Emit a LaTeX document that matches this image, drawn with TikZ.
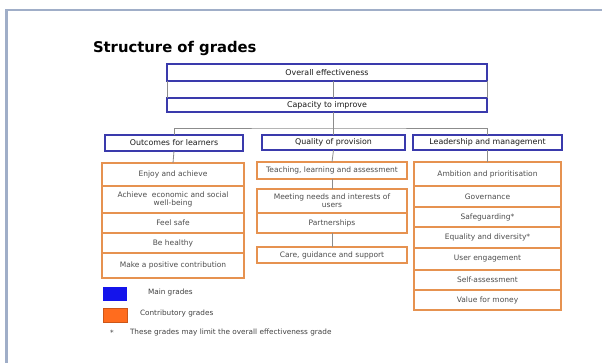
\documentclass[tikz,border=0pt]{standalone}
\usepackage{fontspec}
\setmainfont{DejaVu Sans}
\usetikzlibrary{positioning}

\definecolor{gradeblue}{RGB}{58,58,172}
\definecolor{gradeorange}{RGB}{230,146,80}
\definecolor{keyblue}{RGB}{20,20,235}
\definecolor{keyorange}{RGB}{255,108,30}
\definecolor{frameblue}{RGB}{160,174,200}
\definecolor{linkgrey}{RGB}{140,140,140}

\begin{document}
\begin{tikzpicture}[
    x=1pt, y=-1pt,
    every node/.style={inner sep=0pt, outer sep=0pt, align=center},
    mainbox/.style={draw=gradeblue, line width=1.8pt, text=black!90, font=\fontsize{7.9}{9}\selectfont},
    subbox/.style={draw=gradeorange, line width=1.3pt, text=black!70, font=\fontsize{7.5}{8.2}\selectfont, minimum width=#1},
    link/.style={draw=linkgrey, line width=0.8pt},
    keytext/.style={text=black!75, font=\fontsize{7.3}{8.5}\selectfont, anchor=west}
    ]

    \useasboundingbox (0,0) rectangle (602,363);
    \draw[frameblue, line width=2.5pt] (6.5,363) -- (6.5,10) -- (602,10);

    \node[anchor=base west, font=\bfseries\fontsize{14.8}{17}\selectfont] (title) at (93,53) {Structure of grades};

    \node (overall) [mainbox, minimum width=320pt, minimum height=17pt] at (327,72.5) {Overall effectiveness};
    \node (capacity) [mainbox, minimum width=320pt, minimum height=14pt] at (327,105) {Capacity to improve};

    \node (outcomes) [mainbox, minimum width=138pt, minimum height=16pt] at (174,143) {Outcomes for learners};
    \node (quality) [mainbox, minimum width=143pt, minimum height=15pt] at (333.5,142.5) {Quality of provision};
    \node (leadership) [mainbox, minimum width=149pt, minimum height=15pt] at (487.5,142.5) {Leadership and management};

    \node (enjoy) [subbox=142pt, minimum height=23pt] at (173,174.5) {Enjoy and achieve};
    \node (economic) [subbox=142pt, minimum height=27pt, below=0pt of enjoy] {Achieve\ \ economic and social\\ well-being};
    \node (safe) [subbox=142pt, minimum height=20pt, below=0pt of economic] {Feel safe};
    \node (healthy) [subbox=142pt, minimum height=20pt, below=0pt of safe] {Be healthy};
    \node (contribution) [subbox=142pt, minimum height=25pt, below=0pt of healthy] {Make a positive contribution};

    \node (teaching) [subbox=150pt, minimum height=17pt] at (332,170.5) {Teaching, learning and assessment};
    \node (needs) [subbox=150pt, minimum height=24pt, below=10pt of teaching] {Meeting needs and interests of\\ users};
    \node (partnerships) [subbox=150pt, minimum height=20pt, below=0pt of needs] {Partnerships};
    \node (care) [subbox=150pt, minimum height=16pt, below=14pt of partnerships] {Care, guidance and support};

    \node (ambition) [subbox=147pt, minimum height=24pt] at (487.5,174) {Ambition and prioritisation};
    \node (governance) [subbox=147pt, minimum height=21pt, below=0pt of ambition] {Governance};
    \node (safeguarding) [subbox=147pt, minimum height=20pt, below=0pt of governance] {Safeguarding*};
    \node (equality) [subbox=147pt, minimum height=21pt, below=0pt of safeguarding] {Equality and diversity*};
    \node (engagement) [subbox=147pt, minimum height=22pt, below=0pt of equality] {User engagement};
    \node (selfassess) [subbox=147pt, minimum height=20pt, below=0pt of engagement] {Self-assessment};
    \node (value) [subbox=147pt, minimum height=20pt, below=0pt of selfassess] {Value for money};

    \coordinate (bus) at ([yshift=-16pt]capacity.south);

    \draw[link] (quality.north |- overall.south) -- (quality.north |- capacity.north);
    \draw[link] (overall.south west) -- (capacity.north west);
    \draw[link] (overall.south east) -- (capacity.north east);
    \draw[link] (quality.north |- capacity.south) -- (quality.north);
    \draw[link] (outcomes.north) |- (bus) -| (leadership.north);
    \draw[link] (outcomes.south) -- (enjoy.north);
    \draw[link] (quality.south) -- (teaching.north);
    \draw[link] (teaching.south) -- (needs.north);
    \draw[link] (partnerships.south) -- (care.north);
    \draw[link] (leadership.south) -- (ambition.north);

    \node (keymain) [fill=keyblue, minimum width=24pt, minimum height=14pt] at (115,294) {};
    \node (keycontrib) [fill=keyorange, draw=keyorange!80!black, line width=0.8pt, minimum width=24pt, minimum height=14pt] at (115,315) {};
    \node (mainlabel) [keytext, right=21pt of keymain, yshift=1.5pt] {Main grades};
    \node (contriblabel) [keytext, right=13pt of keycontrib, yshift=2pt] {Contributory grades};
    \node (star) [keytext, anchor=center] at (112,333) {*};
    \node (note) [keytext] at (130,332) {These grades may limit the overall effectiveness grade};

\end{tikzpicture}
\end{document}
